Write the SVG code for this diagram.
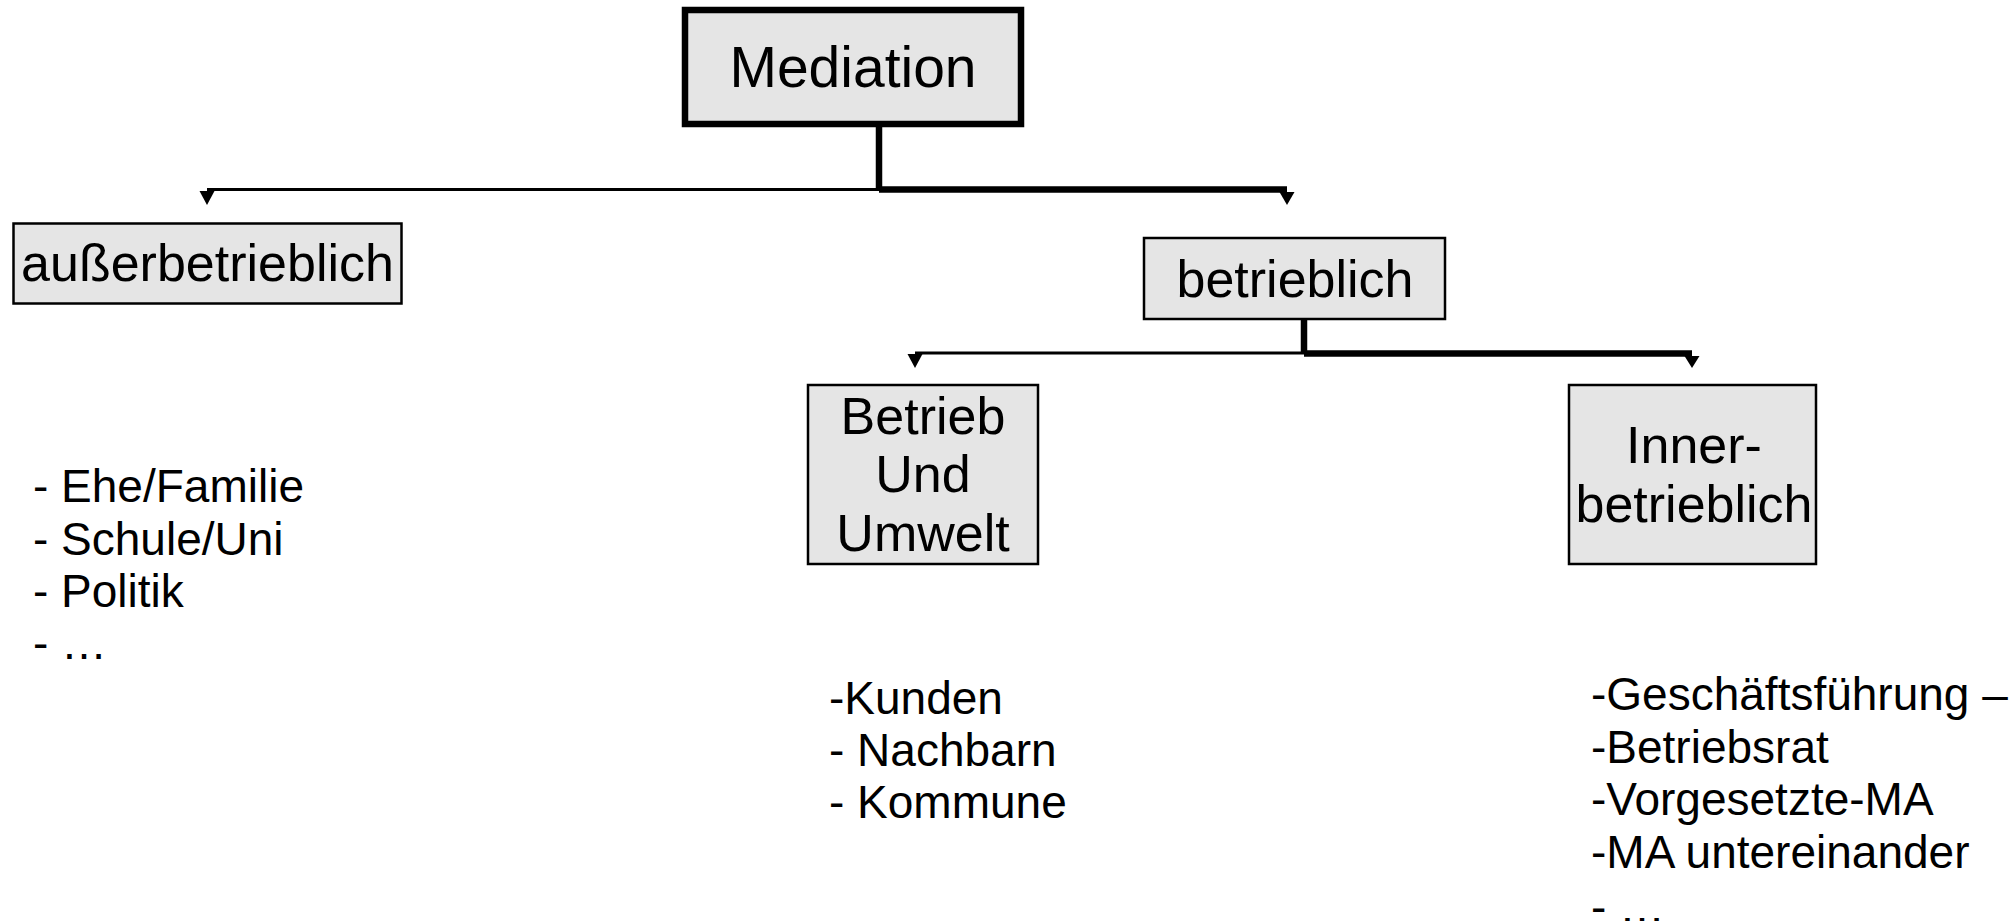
<svg xmlns="http://www.w3.org/2000/svg" width="2013" height="921" viewBox="0 0 2013 921">
<style>
  .box { fill: #e5e5e5; stroke: #000; stroke-width: 2.5; }
  .main { fill: #e5e5e5; stroke: #000; stroke-width: 6.5; }
  .t { font-family: "Liberation Sans", Arial, sans-serif; fill: #000; }
  .c { text-anchor: middle; font-size: 52px; }
  .l { font-size: 46px; }
  .thin { stroke: #000; stroke-width: 3; fill: none; }
  .thick { stroke: #000; stroke-width: 6.5; fill: none; }
  .ah { fill: #000; }
</style>
<rect width="2013" height="921" fill="#fff"/>
<g id="connectors">
  <line class="thick" x1="879" y1="127" x2="879" y2="189.5" stroke-width="5"/>
  <line class="thin" x1="879" y1="189.5" x2="207" y2="189.5"/>
  <line class="thick" x1="879" y1="189.5" x2="1287" y2="189.5"/>
  <polygon class="ah" points="199.5,191 214.5,191 207,205"/>
  <polygon class="ah" points="1279.5,192 1294.5,192 1287,205"/>
  <line class="thick" x1="1304" y1="320" x2="1304" y2="353.5" stroke-width="6"/>
  <line class="thin" x1="1304" y1="353" x2="915" y2="353"/>
  <line class="thick" x1="1304" y1="353.5" x2="1692" y2="353.5"/>
  <polygon class="ah" points="907.5,354 922.5,354 915,368"/>
  <polygon class="ah" points="1684.5,356 1699.5,356 1692,368"/>
</g>
<g id="mediation">
  <rect class="main" x="685" y="10" width="336" height="114"/>
  <text class="t" x="853" y="87" font-size="57" text-anchor="middle">Mediation</text>
</g>
<g id="ausserbetrieblich">
  <rect class="box" x="13.5" y="223.5" width="388" height="80"/>
  <text class="t c" x="207.5" y="281">außerbetrieblich</text>
</g>
<g id="betrieblich">
  <rect class="box" x="1144" y="238" width="301" height="81"/>
  <text class="t c" x="1295" y="297">betrieblich</text>
</g>
<g id="betrieb-umwelt">
  <rect class="box" x="808" y="385" width="230" height="179"/>
  <text class="t c" x="923" y="434">Betrieb</text>
  <text class="t c" x="923" y="492">Und</text>
  <text class="t c" x="923" y="551">Umwelt</text>
</g>
<g id="innerbetrieblich">
  <rect class="box" x="1569" y="385" width="247" height="179"/>
  <text class="t c" x="1694" y="463">Inner-</text>
  <text class="t c" x="1694" y="522">betrieblich</text>
</g>
<g id="list-ausser">
  <text class="t l" x="33" y="502">- Ehe/Familie</text>
  <text class="t l" x="33" y="554.5">- Schule/Uni</text>
  <text class="t l" x="33" y="607">- Politik</text>
  <text class="t l" x="33" y="659">- …</text>
</g>
<g id="list-umwelt">
  <text class="t l" x="829" y="714">-Kunden</text>
  <text class="t l" x="829" y="766">- Nachbarn</text>
  <text class="t l" x="829" y="818">- Kommune</text>
</g>
<g id="list-inner">
  <text class="t l" x="1591" y="710">-Geschäftsführung –</text>
  <text class="t l" x="1591" y="762.5">-Betriebsrat</text>
  <text class="t l" x="1591" y="815">-Vorgesetzte-MA</text>
  <text class="t l" x="1591" y="868">-MA untereinander</text>
  <text class="t l" x="1591" y="923">- …</text>
</g>
</svg>
